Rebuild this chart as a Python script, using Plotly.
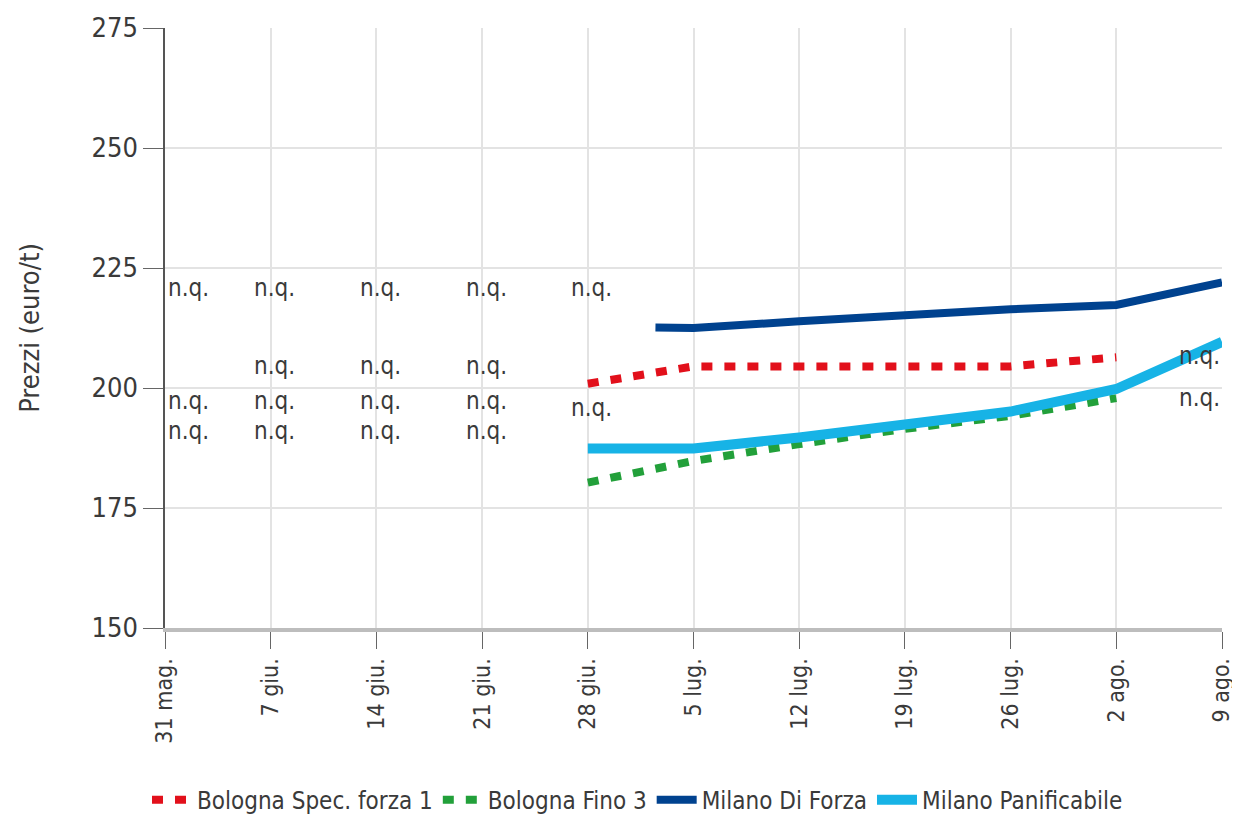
import plotly.graph_objects as go

categories = ["31 mag.", "7 giu.", "14 giu.", "21 giu.", "28 giu.", "5 lug.",
              "12 lug.", "19 lug.", "26 lug.", "2 ago.", "9 ago."]

spec_x = [4, 5, 6, 7, 8, 9]
spec_y = [200.9, 204.5, 204.5, 204.5, 204.5, 206.4]

fino_x = [4, 5, 6, 7, 8, 9]
fino_y = [180.3, 184.8, 188.3, 191.5, 194.2, 197.9]

forza_x = [4.64, 5, 6, 7, 8, 9, 10]
forza_y = [212.6, 212.5, 213.9, 215.2, 216.4, 217.3, 222.0]

panif_x = [4, 5, 6, 7, 8, 9, 10]
panif_y = [187.4, 187.4, 189.7, 192.6, 195.1, 199.8, 209.6]

nq_col = [0, 1, 2, 3, 4, 1, 2, 3, 0, 1, 2, 3, 4, 0, 1, 2, 3, 10, 10]
nq_val = [220.8, 220.8, 220.8, 220.8, 220.8,
          204.6, 204.6, 204.6,
          197.3, 197.3, 197.3, 197.3, 195.8,
          191.0, 191.0, 191.0, 191.0,
          206.6, 198.0]

FONT = "DejaVu Sans Condensed, Liberation Sans Narrow, sans-serif"
TXT = "#3a3a3a"

fig = go.Figure()
fig.add_trace(go.Scatter(x=spec_x, y=spec_y, mode="lines", name="Bologna Spec. forza 1",
                         line=dict(color="#e2101b", width=8, dash="11px,12px")))
fig.add_trace(go.Scatter(x=fino_x, y=fino_y, mode="lines", name="Bologna Fino 3",
                         line=dict(color="#22a03a", width=8, dash="11px,12px")))
fig.add_trace(go.Scatter(x=forza_x, y=forza_y, mode="lines", name="Milano Di Forza",
                         line=dict(color="#00428f", width=8)))
fig.add_trace(go.Scatter(x=panif_x, y=panif_y, mode="lines", name="Milano Panificabile",
                         line=dict(color="#17b3e6", width=10)))

for c, v in zip(nq_col, nq_val):
    if c == 0:
        anchor, shift = "left", 1
    elif c == len(categories) - 1:
        anchor, shift = "right", 0
    else:
        anchor, shift = "center", 4
    fig.add_annotation(x=c, y=v, text="n.q.", showarrow=False, xanchor=anchor,
                       yanchor="middle", xshift=shift,
                       font=dict(family=FONT, size=24, color=TXT))

# page body has an 8px default margin, so the figure is sized and offset to fit
fig.update_layout(
    width=1232, height=815,
    margin=dict(l=157, r=18, t=20, b=195, autoexpand=False),
    paper_bgcolor="white", plot_bgcolor="white",
    font=dict(family=FONT, size=24, color=TXT),
    showlegend=True,
    legend=dict(orientation="h", x=0.447, xanchor="center", y=-0.287, yanchor="middle",
                font=dict(family=FONT, size=24, color=TXT), itemwidth=40,
                tracegroupgap=0),
)
fig.update_xaxes(
    range=[0, 10], tickmode="array", tickvals=list(range(len(categories))),
    ticktext=categories, tickangle=-90, automargin=False,
    showgrid=True, gridcolor="#e3e3e3", gridwidth=1.5,
    showline=True, linecolor="#bdbdbd", linewidth=4,
    ticks="outside", ticklen=17, tickcolor="#666", tickwidth=1,
    tickfont=dict(family=FONT, size=23, color=TXT),
    zeroline=False, fixedrange=True,
)
fig.update_yaxes(
    range=[150, 275], tickmode="array", tickvals=[150, 175, 200, 225, 250, 275],
    showgrid=True, gridcolor="#e3e3e3", gridwidth=1.5, automargin=False,
    showline=True, linecolor="#555", linewidth=1.5,
    ticks="outside", ticklen=20, tickcolor="#666", tickwidth=1,
    tickfont=dict(family=FONT, size=27, color=TXT),
    title=dict(text="Prezzi (euro/t)", font=dict(family=FONT, size=27, color=TXT), standoff=44),
    zeroline=False, fixedrange=True,
)

fig.write_html("out.html")
